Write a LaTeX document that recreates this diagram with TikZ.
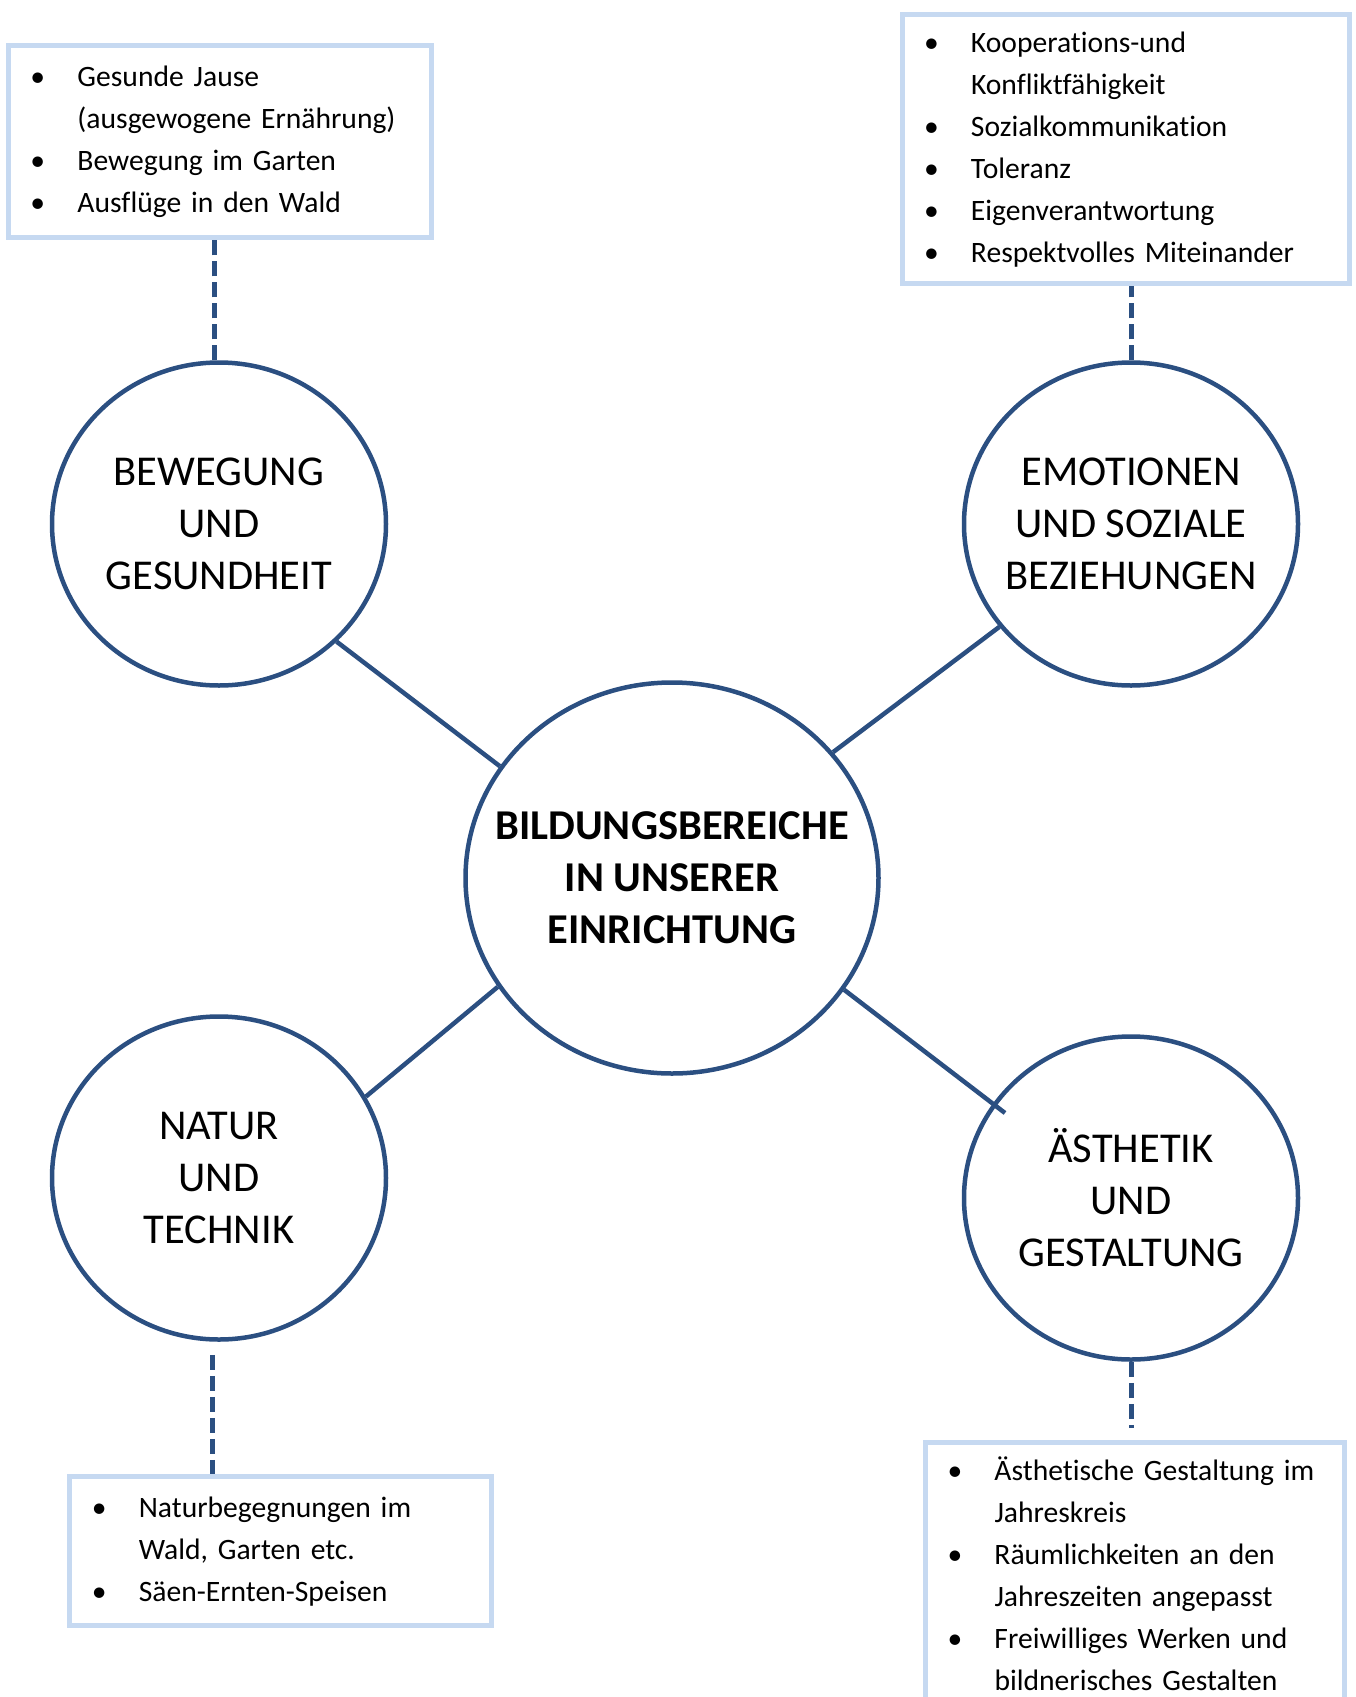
\documentclass[tikz,border=0pt]{standalone}
\usepackage{fontspec}
\setmainfont{Carlito}[Ligatures=NoCommon]
\usetikzlibrary{shapes.geometric}
\definecolor{ringblue}{HTML}{2B4F81}
\definecolor{boxblue}{HTML}{C6D9F1}
\newcommand{\itm}{\makebox[47pt][l]{\textbullet}}

\begin{document}
\begin{tikzpicture}[x=1pt,y=-1pt,
  ring/.style={ellipse,draw=ringblue,line width=4.5pt,minimum width=334pt,
    minimum height=323pt,inner sep=-60pt,align=center,
    font=\fontsize{42.5}{52}\selectfont},
  list/.style={rectangle,draw=boxblue,line width=5pt,anchor=north west,
    inner xsep=22pt,inner ysep=0pt,align=left,
    font=\fontsize{29.6}{42}\selectfont},
  spoke/.style={draw=ringblue,line width=4.5pt},
  dashline/.style={draw=ringblue,line width=5pt,dash pattern=on 15pt off 6pt}]
\useasboundingbox (0,0) rectangle (1355,1697);

\node[ring] (bew) at (219,524) {BEWEGUNG\\UND\\GESUNDHEIT};
\node[ring] (emo) at (1131,524) {EMOTIONEN\\UND SOZIALE\\BEZIEHUNGEN};
\node[ring] (natur) at (219,1178) {NATUR\\UND\\TECHNIK};
\node[ring] (aest) at (1131,1198) {ÄSTHETIK\\UND\\GESTALTUNG};
\node[ring,minimum width=413pt,minimum height=391pt,
  font=\fontsize{42.5}{52}\selectfont\bfseries] (ctr) at (672,878)
  {BILDUNGSBEREICHE\\IN UNSERER\\EINRICHTUNG};

\node[list,text width=379pt,minimum height=192pt] (tl) at (6,42.7)
  {\noindent\begin{tabular}{@{}l@{}l@{}}
   \itm & Gesunde Jause\\ & (ausgewogene Ernährung)\\
   \itm & Bewegung im Garten\\ \itm & Ausflüge in den Wald
   \end{tabular}};
\node[list,text width=403pt,minimum height=269pt] (tr) at (899.5,11.7)
  {\noindent\begin{tabular}{@{}l@{}l@{}}
   \itm & Kooperations-und\\ & Konfliktfähigkeit\\ \itm & Sozialkommunikation\\
   \itm & Toleranz\\ \itm & Eigenverantwortung\\ \itm & Respektvolles Miteinander
   \end{tabular}};
\node[list,text width=378pt,minimum height=149pt] (bl) at (67.3,1474)
  {\noindent\begin{tabular}{@{}l@{}l@{}}
   \itm & Naturbegegnungen im\\ & Wald, Garten etc.\\ \itm & Säen-Ernten-Speisen
   \end{tabular}};
\node[list,text width=375pt,minimum height=270pt] (br) at (923,1440)
  {\noindent\begin{tabular}{@{}l@{}l@{}}
   \itm & Ästhetische Gestaltung im\\ & Jahreskreis\\
   \itm & Räumlichkeiten an den\\ & Jahreszeiten angepasst\\
   \itm & Freiwilliges Werken und\\ & bildnerisches Gestalten
   \end{tabular}};

\draw[spoke] (bew.-45) -- (ctr.147);
\draw[spoke] (emo.218) -- (ctr.38);
\draw[spoke] (natur.29) -- (ctr.212);
\coordinate (aestin) at (1005,1113);
\draw[spoke] (ctr.-33) -- (aestin);

\draw[dashline] ([xshift=-5pt]bew.north) -- ([xshift=-5pt]bew.north |- tl.south);
\draw[dashline] (emo.north) -- (emo.north |- tr.south);
\draw[dashline,shorten <=13pt] ([xshift=-7pt]natur.south) -- ([xshift=-7pt]natur.south |- bl.north);
\draw[dashline,shorten >=12pt] (aest.south) -- (aest.south |- br.north);
\end{tikzpicture}
\end{document}
